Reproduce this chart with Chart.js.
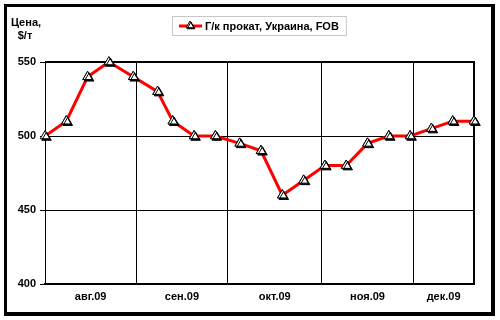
<!DOCTYPE html>
<html>
<head>
<meta charset="utf-8">
<script src="https://cdn.jsdelivr.net/npm/chart.js@4/dist/chart.umd.min.js"></script>
<style>
  body { margin: 0; background: #fff; }
  #frame {
    position: absolute; left: 4px; top: 4px;
    width: 484px; height: 305px;
    border-style: solid; border-color: #000;
    border-width: 3px 4px 4px 3px;
  }
  #chart { position: absolute; left: 0; top: 0; }
</style>
</head>
<body>
<div id="frame"></div>
<canvas id="chart" width="500" height="320"></canvas>
<script>
// weekly quotes, $/t
const dates = ['2009-08-02', '2009-08-09', '2009-08-16', '2009-08-23', '2009-08-31',
  '2009-09-08', '2009-09-13', '2009-09-20', '2009-09-27', '2009-10-05', '2009-10-12',
  '2009-10-19', '2009-10-26', '2009-11-02', '2009-11-09', '2009-11-16', '2009-11-23',
  '2009-11-30', '2009-12-07', '2009-12-14', '2009-12-21'];
const prices = [500, 510, 540, 550, 540, 530, 510, 500, 500, 495, 490,
  460, 470, 480, 480, 495, 500, 500, 505, 510, 510];
const monthLabels = ['авг.09', 'сен.09', 'окт.09', 'ноя.09', 'дек.09'];
const monthStarts = ['2009-08-01', '2009-09-01', '2009-10-01', '2009-11-01', '2009-12-01', '2010-01-01'];
const seriesName = 'Г/к прокат, Украина, FOB';
const yTicks = [400, 450, 500, 550];

const FAMILY = '"Liberation Sans", Arial, sans-serif';
const FONT = 'bold 11px ' + FAMILY;
const base = Date.UTC(2009, 7, 1);
const toDay = s => (new Date(s).getTime() - base) / 86400000;

const xs = dates.map(toDay);
const xMin = xs[0];
const xMax = xs[xs.length - 1];
const starts = monthStarts.map(toDay);

// grid at month boundaries, labels centred on the visible part of each month
const boundaries = starts.filter(d => d > xMin && d < xMax);
const centers = monthLabels.map((lbl, i) => {
  const a = Math.max(starts[i], xMin);
  const b = Math.min(starts[i + 1], xMax);
  return { value: (a + b) / 2, label: lbl };
});

const plotFrame = {
  id: 'plotFrame',
  beforeDatasetsDraw(chart) {
    const { ctx, chartArea: a } = chart;
    ctx.save();
    ctx.strokeStyle = '#000';
    ctx.lineWidth = 2;
    ctx.beginPath();
    ctx.moveTo(a.left, a.top);
    ctx.lineTo(a.right, a.top);
    ctx.lineTo(a.right, a.bottom);
    ctx.lineTo(a.left, a.bottom);
    ctx.stroke();
    ctx.restore();
  }
};

// Excel-like drop shadow under the markers
const markerShadow = {
  id: 'markerShadow',
  afterDatasetsDraw(chart) {
    const ctx = chart.ctx;
    chart.getDatasetMeta(0).data.forEach(el => {
      ctx.save();
      ctx.shadowColor = '#000';
      ctx.shadowOffsetX = 1.5;
      ctx.shadowOffsetY = 1.5;
      ctx.shadowBlur = 0;
      el.draw(ctx, chart.chartArea);
      ctx.restore();
    });
  }
};

// axis caption and boxed legend
const extras = {
  id: 'extras',
  afterDraw(chart) {
    const ctx = chart.ctx;
    const ds = chart.data.datasets[0];
    ctx.save();
    ctx.font = FONT;
    ctx.fillStyle = '#000';
    ctx.textAlign = 'center';
    ctx.textBaseline = 'middle';
    ctx.fillText('Цена,', 26, 23);
    ctx.fillText('$/т', 25, 36);

    const bx = 172, by = 16, bh = 19;
    const tw = ctx.measureText(ds.label).width;
    const bw = 34 + tw + 6;
    const cy = by + bh / 2;
    ctx.fillStyle = '#fff';
    ctx.fillRect(bx, by, bw, bh);
    ctx.strokeStyle = '#c8c8c8';
    ctx.lineWidth = 1;
    ctx.strokeRect(bx + 0.5, by + 0.5, bw, bh);

    ctx.strokeStyle = ds.borderColor;
    ctx.lineWidth = ds.borderWidth;
    ctx.beginPath();
    ctx.moveTo(bx + 7, cy + 0.5);
    ctx.lineTo(bx + 30, cy + 0.5);
    ctx.stroke();

    ctx.save();
    ctx.shadowColor = '#000';
    ctx.shadowOffsetX = 1;
    ctx.shadowOffsetY = 1;
    ctx.fillStyle = '#fff';
    ctx.strokeStyle = '#000';
    ctx.lineWidth = 1;
    Chart.helpers.drawPoint(ctx, { pointStyle: 'triangle', radius: 4.5, borderWidth: 1 }, bx + 18, cy);
    ctx.restore();

    ctx.fillStyle = '#000';
    ctx.textAlign = 'left';
    ctx.fillText(ds.label, bx + 33, cy + 1);
    ctx.restore();
  }
};

new Chart(document.getElementById('chart'), {
  type: 'line',
  data: {
    datasets: [{
      label: seriesName,
      data: xs.map((x, i) => ({ x: x, y: prices[i] })),
      borderColor: '#ff0000',
      borderWidth: 3,
      tension: 0,
      pointStyle: 'triangle',
      pointRadius: 5.5,
      pointBackgroundColor: '#fff',
      pointBorderColor: '#000',
      pointBorderWidth: 1
    }]
  },
  options: {
    responsive: false,
    animation: false,
    events: [],
    layout: { padding: { left: 0, top: 62, right: 26, bottom: 0 } },
    plugins: { legend: { display: false }, tooltip: { enabled: false } },
    scales: {
      x: {
        type: 'linear',
        min: xMin,
        max: xMax,
        afterBuildTicks(scale) {
          scale.ticks = boundaries.map(v => ({ value: v }))
            .concat(centers.map(c => ({ value: c.value })));
        },
        afterFit(scale) { scale.height = 36; },
        grid: {
          color: ctx => (ctx.tick && boundaries.includes(ctx.tick.value)) ? '#000' : 'rgba(0,0,0,0)',
          lineWidth: 1,
          drawTicks: false
        },
        border: { color: '#000', width: 2 },
        ticks: {
          autoSkip: false,
          maxRotation: 0,
          padding: 6,
          color: '#000',
          font: { family: FAMILY, size: 11, weight: 'bold' },
          callback(value) {
            const c = centers.find(c => c.value === value);
            return c ? c.label : '';
          }
        }
      },
      y: {
        min: yTicks[0],
        max: yTicks[yTicks.length - 1],
        afterBuildTicks(scale) {
          scale.ticks = yTicks.map(v => ({ value: v }));
        },
        afterFit(scale) { scale.width = 45; },
        grid: { color: '#000', lineWidth: 1, tickLength: 5 },
        border: { color: '#000', width: 1 },
        ticks: {
          padding: 4,
          color: '#000',
          font: { family: FAMILY, size: 11, weight: 'bold' }
        }
      }
    }
  },
  plugins: [plotFrame, markerShadow, extras]
});
</script>
</body>
</html>
